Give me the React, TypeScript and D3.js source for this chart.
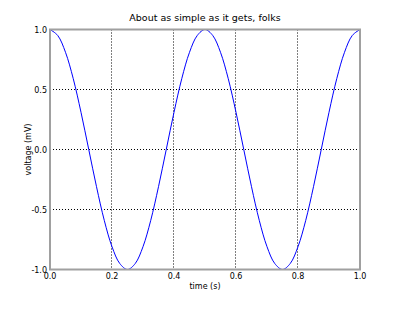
import React from "react";
import * as d3 from "d3";

const timeS: number[] = [
  0, 0.025, 0.05, 0.075, 0.1, 0.125, 0.15, 0.175, 0.2, 0.225, 0.25,
  0.275, 0.3, 0.325, 0.35, 0.375, 0.4, 0.425, 0.45, 0.475, 0.5,
  0.525, 0.55, 0.575, 0.6, 0.625, 0.65, 0.675, 0.7, 0.725, 0.75,
  0.775, 0.8, 0.825, 0.85, 0.875, 0.9, 0.925, 0.95, 0.975, 1.0,
];
const voltageMV: number[] = [
  1.0, 0.95, 0.81, 0.59, 0.31, 0.0, -0.31, -0.59, -0.81, -0.95, -1.0,
  -0.95, -0.81, -0.59, -0.31, 0.0, 0.31, 0.59, 0.81, 0.95, 1.0,
  0.95, 0.81, 0.59, 0.31, 0.0, -0.31, -0.59, -0.81, -0.95, -1.0,
  -0.95, -0.81, -0.59, -0.31, 0.0, 0.31, 0.59, 0.81, 0.95, 1.0,
];
const xTicks: number[] = [0, 0.2, 0.4, 0.6, 0.8, 1.0];
const yTicks: number[] = [-1.0, -0.5, 0.0, 0.5, 1.0];
const title = "About as simple as it gets, folks";
const xLabel = "time (s)";
const yLabel = "voltage (mV)";

export default function App() {
  const W = 402, H = 310;
  const left = 50, right = 360, top = 29.5, bottom = 269.5;
  const x = d3.scaleLinear().domain([0, 1]).range([left, right]);
  const y = d3.scaleLinear().domain([-1, 1]).range([bottom, top]);
  const pts: [number, number][] = timeS.map((t, i) => [t, voltageMV[i]]);
  const line = d3
    .line<[number, number]>()
    .x((d) => x(d[0]))
    .y((d) => y(d[1]))
    .curve(d3.curveCatmullRom.alpha(0.5));
  const font = "DejaVu Sans, sans-serif";
  return (
    <svg
      width={W}
      height={H}
      style={{ position: "absolute", left: 0, top: 0, background: "#fff" }}
      fontFamily={font}
    >
      <rect x={0} y={0} width={W} height={H} fill="#fff" />
      {xTicks.map((t) => (
        <line
          key={"gx" + t}
          x1={Math.round(x(t)) - 0.5}
          x2={Math.round(x(t)) - 0.5}
          y1={top}
          y2={bottom}
          stroke="#000"
          strokeWidth={1}
          strokeDasharray="1,2"
        />
      ))}
      {yTicks.map((t) => (
        <line
          key={"gy" + t}
          x1={left}
          x2={right}
          y1={y(t)}
          y2={y(t)}
          stroke="#000"
          strokeWidth={1}
          strokeDasharray="1,2"
        />
      ))}
      <path d={line(pts) || ""} fill="none" stroke="#0000ff" strokeWidth={1} />
      <rect
        x={left}
        y={top}
        width={right - left}
        height={bottom - top}
        fill="none"
        stroke="#a0a0a0"
        strokeWidth={2}
      />
      {xTicks.map((t) => (
        <text
          key={"tx" + t}
          x={x(t)}
          y={bottom + 9}
          textAnchor="middle"
          fontSize={8}
          fill="#000"
        >
          {t.toFixed(1)}
        </text>
      ))}
      {yTicks.map((t) => (
        <text
          key={"ty" + t}
          x={left - 3}
          y={y(t) + 3}
          textAnchor="end"
          fontSize={8}
          fill="#000"
        >
          {t.toFixed(1)}
        </text>
      ))}
      <text x={(left + right) / 2} y={21} textAnchor="middle" fontSize={9.5} fill="#000">
        {title}
      </text>
      <text x={(left + right) / 2} y={289} textAnchor="middle" fontSize={8} fill="#000">
        {xLabel}
      </text>
      <text
        transform={`translate(31,${(top + bottom) / 2}) rotate(-90)`}
        textAnchor="middle"
        fontSize={8}
        fill="#000"
      >
        {yLabel}
      </text>
    </svg>
  );
}
